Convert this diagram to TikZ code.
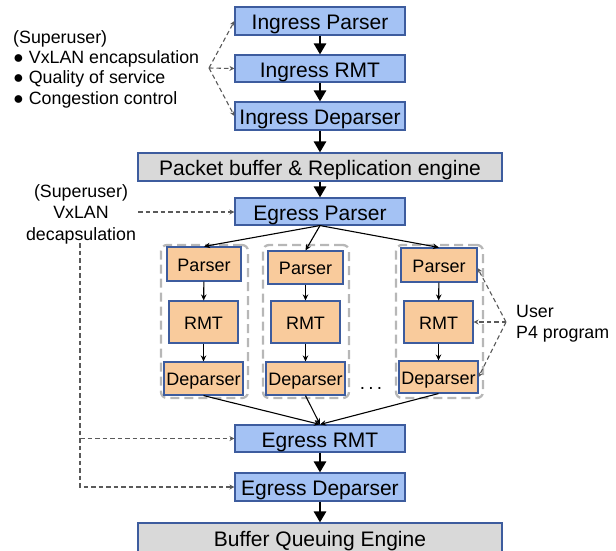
\documentclass[tikz,border=0pt]{standalone}
\usepackage{fontspec}
\setmainfont{Liberation Sans}
\usetikzlibrary{arrows.meta}

\definecolor{stagefill}{HTML}{A4C2F4}
\definecolor{sharedfill}{HTML}{D9D9D9}
\definecolor{p4fill}{HTML}{F9CB9C}
\definecolor{boxline}{HTML}{3D5C9E}
\definecolor{groupline}{HTML}{B7B7B7}
\definecolor{cfgline}{HTML}{5A5A5A}

\begin{document}
\begin{tikzpicture}[x=1pt,y=-1pt,
  bigbox/.style={draw=boxline, line width=1.1pt, inner sep=0pt,
    text height=17pt, text depth=0pt, font=\fontsize{21}{24}\selectfont,
    minimum width=170pt, minimum height=28pt},
  stage/.style={bigbox, fill=stagefill},
  shared/.style={bigbox, fill=sharedfill, minimum width=364pt},
  p4box/.style={draw=boxline, line width=1.1pt, fill=p4fill, inner sep=0pt,
    text height=14pt, text depth=0pt, font=\fontsize{18}{20}\selectfont},
  p4group/.style={draw=groupline, line width=2.3pt, dash pattern=on 9pt off 5pt,
    rounded corners=6pt, inner sep=0pt},
  bigflow/.style={line width=2.6pt, -{Triangle[width=12pt,length=11pt]}},
  thinflow/.style={line width=1.1pt, -{Stealth[width=5.5pt,length=6pt]}},
  config/.style={draw=cfgline, line width=1.1pt, dash pattern=on 4.5pt off 3pt,
    -{Stealth[width=5pt,length=5pt]}},
  note/.style={font=\fontsize{17.8}{20}\selectfont, inner sep=0pt}
]
\useasboundingbox (0,0) rectangle (616,550);
\clip (0,0) rectangle (616,550);

% ingress pipeline
\node[stage] (ip) at (320,21) {Ingress Parser};
\node[stage, minimum height=27pt] (ir) at (320,68.5) {Ingress RMT};
\node[stage] (id) at (320,116) {Ingress Deparser};
\node[shared] (pb) at (320,167) {Packet buffer \& Replication engine};
\node[stage, minimum height=27pt] (ep) at (320,211.5) {Egress Parser};

% user programmable pipelines
\node[p4group, minimum width=87pt, minimum height=153pt] (g1) at (204.5,321.5) {};
\node[p4group, minimum width=86pt, minimum height=153pt] (g2) at (306,321.5) {};
\node[p4group, minimum width=87pt, minimum height=153pt] (g3) at (439.5,321.5) {};

\node[p4box, minimum width=74pt, minimum height=34pt] (pa1) at (204,264) {Parser};
\node[p4box, minimum width=75pt, minimum height=33pt] (pa2) at (305.5,267.5) {Parser};
\node[p4box, minimum width=76pt, minimum height=34pt] (pa3) at (439,265) {Parser};

\node[p4box, minimum width=69pt, minimum height=42pt] (rm1) at (203.5,322) {RMT};
\node[p4box, minimum width=69pt, minimum height=42pt] (rm2) at (305.5,322) {RMT};
\node[p4box, minimum width=69pt, minimum height=42pt] (rm3) at (438.5,322) {RMT};

\node[p4box, minimum width=79pt, minimum height=33pt] (dp1) at (203.5,378.5) {Deparser};
\node[p4box, minimum width=79pt, minimum height=33pt] (dp2) at (305.5,378.5) {Deparser};
\node[p4box, minimum width=79pt, minimum height=32pt] (dp3) at (438.5,377) {Deparser};

\node[font=\fontsize{19}{20}\selectfont, inner sep=0pt, anchor=base] (dots) at (371,389) {.\,.\,.};

% egress pipeline
\node[stage, minimum height=27pt] (er) at (320,438.5) {Egress RMT};
\node[stage] (ed) at (320,487) {Egress Deparser};
\node[shared, minimum height=29pt] (bq) at (320,537.5) {Buffer Queuing Engine};

% main data path
\draw[bigflow] (ip) -- (ir);
\draw[bigflow] (ir) -- (id);
\draw[bigflow] (id) -- (pb);
\draw[bigflow] (pb) -- (ep);
\draw[bigflow] (er) -- (ed);
\draw[bigflow] (ed) -- (bq);

% fan-out / fan-in of the user pipelines
\draw[thinflow] (ep.south) -- (pa1.north);
\draw[thinflow] (ep.south) -- (pa2.north);
\draw[thinflow] (ep.south) -- (pa3.north);
\foreach \i in {1,2,3}{
  \draw[thinflow] (pa\i) -- (rm\i);
  \draw[thinflow] (rm\i) -- (dp\i);
  \draw[thinflow] (dp\i.south) -- (er.north);
}

% superuser ingress functions
\node[note, anchor=base west] (su1) at (13,43) {(Superuser)};
\node[note, anchor=base west] (su2) at (13,63) {● VxLAN encapsulation};
\node[note, anchor=base west] (su3) at (13,83.5) {● Quality of service};
\node[note, anchor=base west] (su4) at (13,104) {● Congestion control};
\coordinate (ifan) at (209,68);
\draw[config] (ifan) -- (ip.west);
\draw[config] (ifan) -- (ir.west);
\draw[config] (ifan) -- (id.west);

% superuser egress functions
\node[note, anchor=base] (sd1) at (81,197) {(Superuser)};
\node[note, anchor=base] (sd2) at (81,218) {VxLAN};
\node[note, anchor=base] (sd3) at (81,240) {decapsulation};
\coordinate (efan) at (138,212);
\draw[config] (efan) -- (efan -| ep.west);
\coordinate (vtop) at (80,243);
\draw[config] (vtop) |- (ed.west);
\draw[config] (vtop |- er.west) -- (er.west);

% user program
\node[note, anchor=base west] (us1) at (516,317) {User};
\node[note, anchor=base west] (us2) at (516,338) {P4 program};
\coordinate (ufan) at (506,322);
\draw[config] (ufan) -- ([yshift=-3pt]pa3.east);
\draw[config] (ufan) -- (rm3.east);
\draw[config] (ufan) -- (dp3.east);
\end{tikzpicture}
\end{document}
